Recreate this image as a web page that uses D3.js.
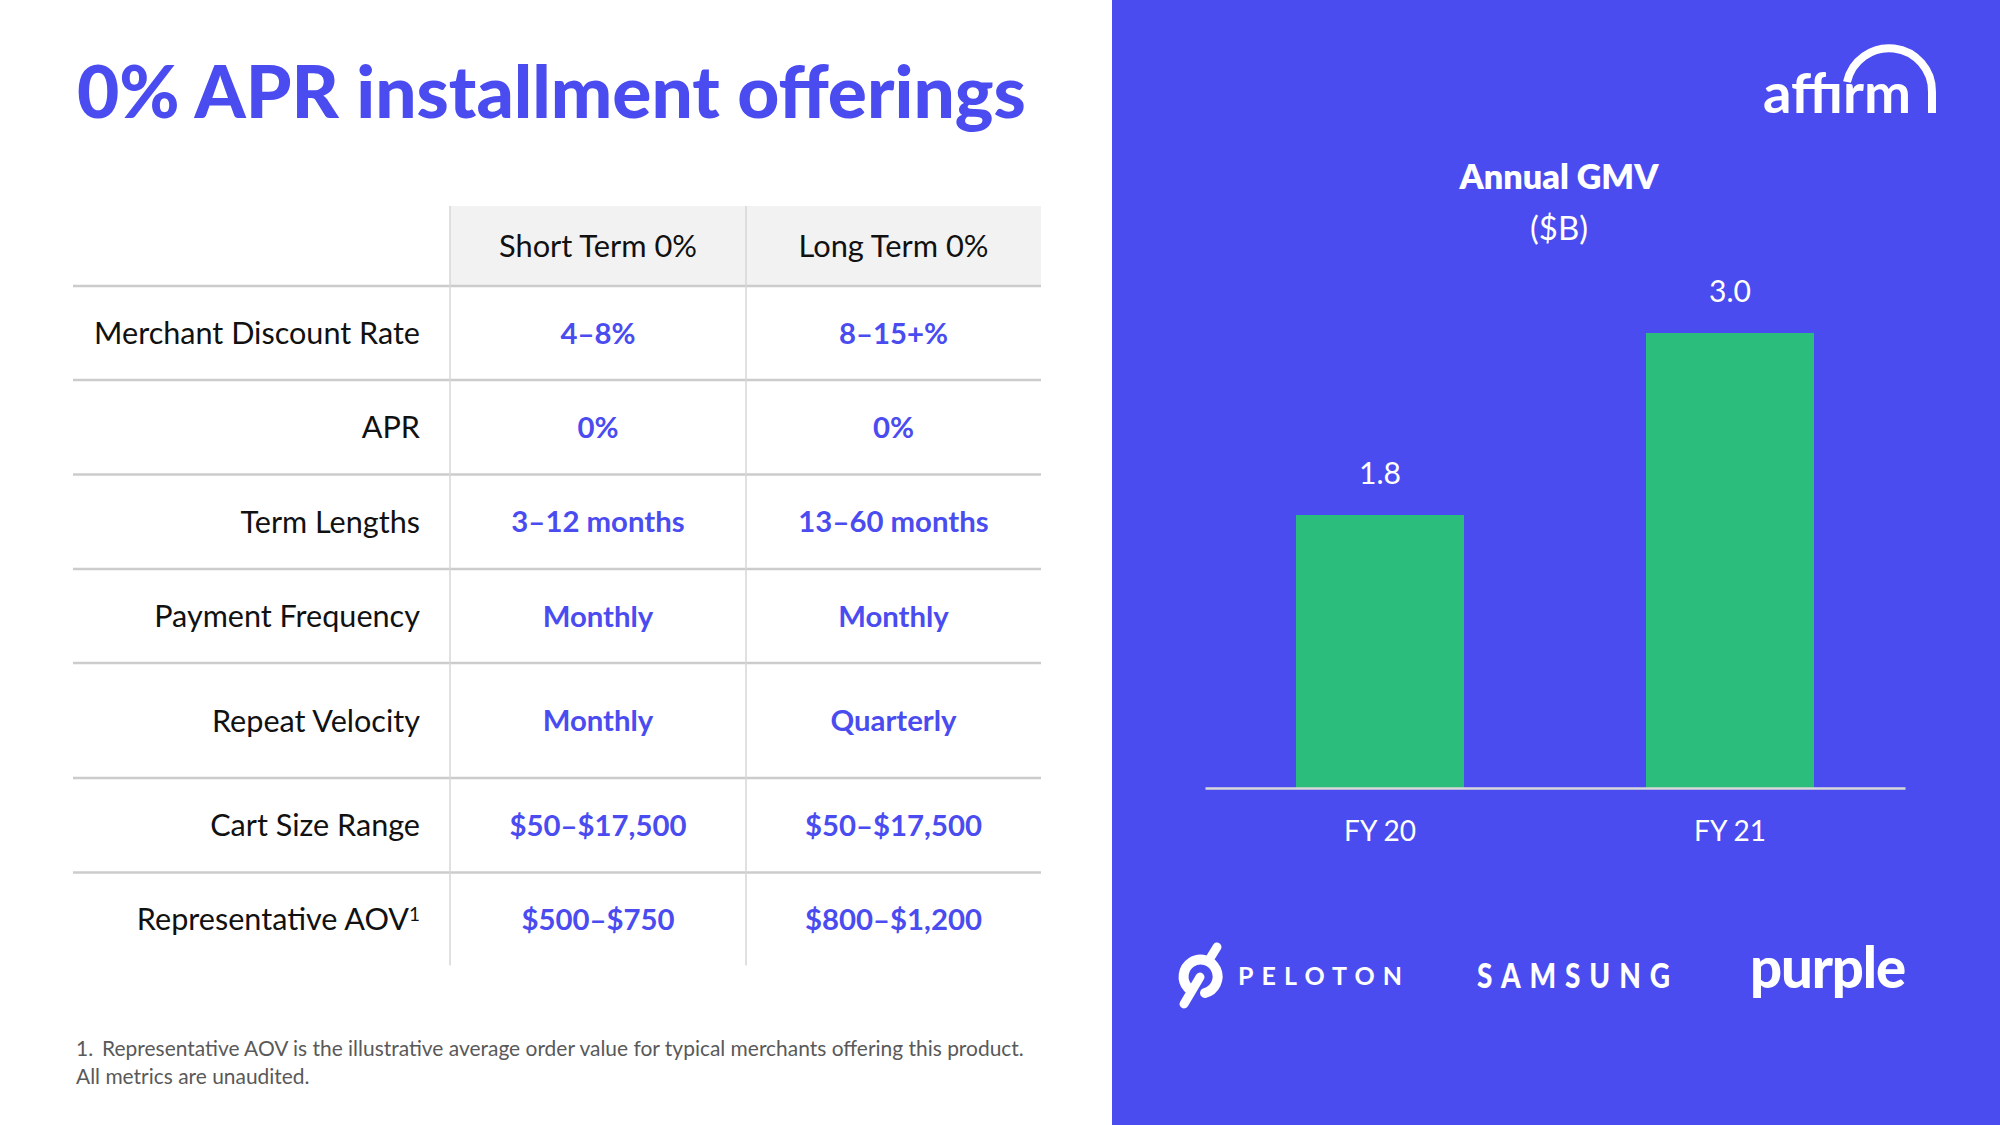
<!DOCTYPE html>
<html>
<head>
<meta charset="utf-8">
<script src="https://cdn.jsdelivr.net/npm/d3@7"></script>
<style>
  body { margin: 0; background: #fff; }
  svg { display: block; }
</style>
</head>
<body>
<svg id="slide"></svg>
<script>
const rowLabels = ["Merchant Discount Rate", "APR", "Term Lengths", "Payment Frequency", "Repeat Velocity", "Cart Size Range", "Representative AOV"];
const columns = ["Short Term 0%", "Long Term 0%"];
const shortTerm = ["4–8%", "0%", "3–12 months", "Monthly", "Monthly", "$50–$17,500", "$500–$750"];
const longTerm = ["8–15+%", "0%", "13–60 months", "Monthly", "Quarterly", "$50–$17,500", "$800–$1,200"];
const years = ["FY 20", "FY 21"];
const gmv = [1.8, 3.0];

const W = 2000, H = 1125;
const blue = "#4a4cf0", green = "#2bbd7b";
const bodyFont = "Lato, 'Open Sans', sans-serif";

const svg = d3.select("#slide").attr("width", W).attr("height", H);

// scale a text's font-size so it spans the given width
function fit(sel, w) {
  const cur = sel.node().getComputedTextLength();
  const fs = parseFloat(sel.attr("font-size"));
  sel.attr("font-size", fs * w / cur);
  return fs * w / cur;
}

// ---- left side: title + table
const title = svg.append("text")
  .attr("x", 77).attr("y", 118)
  .attr("font-family", bodyFont).attr("font-weight", 900)
  .attr("font-size", 66).attr("fill", blue)
  .text("0% APR installment offerings");
fit(title, 949);

const tLeft = 73, tRight = 1041, tTop = 206, headBottom = 286;
const colX = [450, 746, tRight];
const rowH = [94, 94.5, 94.5, 94, 115, 94.5, 93];
const rowTop = [];
rowH.reduce(function (acc, h) { rowTop.push(acc); return acc + h; }, headBottom);
const tBottom = headBottom + d3.sum(rowH);

const table = svg.append("g").attr("class", "table");

table.append("rect")
  .attr("x", colX[0]).attr("y", tTop)
  .attr("width", tRight - colX[0]).attr("height", headBottom - tTop)
  .attr("fill", "#f2f2f2");

// horizontal rules
table.selectAll(".hline")
  .data([headBottom].concat(rowTop.slice(1)))
  .enter().append("line")
  .attr("x1", tLeft).attr("x2", tRight)
  .attr("y1", function (d) { return d; }).attr("y2", function (d) { return d; })
  .attr("stroke", "#cccccc").attr("stroke-width", 2.5);

// vertical rules
table.selectAll(".vline")
  .data([colX[0], colX[1]])
  .enter().append("line")
  .attr("x1", function (d) { return d; }).attr("x2", function (d) { return d; })
  .attr("y1", tTop).attr("y2", tBottom)
  .attr("stroke", "#d6d6d6").attr("stroke-width", 1.5);

// header
const head = table.selectAll(".head")
  .data(columns)
  .enter().append("text")
  .attr("class", "head")
  .attr("x", function (d, i) { return (colX[i] + colX[i + 1]) / 2; })
  .attr("y", (tTop + headBottom) / 2).attr("dy", "0.36em")
  .attr("text-anchor", "middle")
  .attr("font-family", bodyFont).attr("font-size", 27).attr("fill", "#111")
  .text(function (d) { return d; });
const headSize = fit(d3.select(head.nodes()[0]), 198);
head.attr("font-size", headSize);

// row labels
const labels = table.selectAll(".rlabel")
  .data(rowLabels)
  .enter().append("text")
  .attr("class", "rlabel")
  .attr("x", 420)
  .attr("y", function (d, i) { return rowTop[i] + rowH[i] / 2; }).attr("dy", "0.36em")
  .attr("text-anchor", "end")
  .attr("font-family", bodyFont).attr("font-size", 27).attr("fill", "#111")
  .text(function (d) { return d; });
const labelSize = fit(d3.select(labels.nodes()[0]), 326);
labels.attr("font-size", labelSize);
// footnote marker on the last label
d3.select(labels.nodes()[rowLabels.length - 1])
  .append("tspan").attr("dy", "-0.45em").attr("font-size", labelSize * 0.62).text("1");

// values
const vals = [];
[shortTerm, longTerm].forEach(function (series, c) {
  table.selectAll(".val" + c)
    .data(series)
    .enter().append("text")
    .attr("class", "val")
    .attr("x", (colX[c] + colX[c + 1]) / 2)
    .attr("y", function (d, i) { return rowTop[i] + rowH[i] / 2; }).attr("dy", "0.36em")
    .attr("text-anchor", "middle")
    .attr("font-family", bodyFont).attr("font-weight", 700)
    .attr("font-size", 27).attr("fill", blue)
    .text(function (d) { return d; })
    .each(function () { vals.push(this); });
});
const valSize = fit(d3.select(vals[vals.length - 1]), 177);
d3.selectAll(".val").attr("font-size", valSize);

// footnote
const foot = svg.append("g").attr("font-family", bodyFont).attr("fill", "#595959");
const f1 = foot.append("text").attr("x", 76).attr("y", 1048).attr("dy", "0.36em").attr("font-size", 19);
f1.append("tspan").text("1.");
f1.append("tspan").attr("dx", 9)
  .text("Representative AOV is the illustrative average order value for typical merchants offering this product.");
const footSize = fit(f1, 939);
foot.append("text").attr("x", 76).attr("y", 1076).attr("dy", "0.36em").attr("font-size", footSize)
  .text("All metrics are unaudited.");

// ---- right panel
const panelX = 1112;
svg.append("rect").attr("x", panelX).attr("y", 0)
  .attr("width", W - panelX).attr("height", H).attr("fill", blue);

// affirm wordmark
const affirm = svg.append("text")
  .attr("x", 1763).attr("y", 113)
  .attr("font-family", bodyFont).attr("font-weight", 700)
  .attr("font-size", 52).attr("fill", "#fff")
  .text("affırm");
fit(affirm, 148);
svg.append("path")
  .attr("d", "M1847,82 A43,43 0 0 1 1932,92 L1932,113")
  .attr("fill", "none").attr("stroke", "#fff").attr("stroke-width", 8);

const chartTitle = svg.append("text")
  .attr("x", 1559).attr("y", 177).attr("dy", "0.36em")
  .attr("text-anchor", "middle")
  .attr("font-family", bodyFont).attr("font-weight", 800)
  .attr("font-size", 31).attr("fill", "#fff")
  .text("Annual GMV");
fit(chartTitle, 199);
const unit = svg.append("text")
  .attr("x", 1559).attr("y", 228).attr("dy", "0.36em")
  .attr("text-anchor", "middle")
  .attr("font-family", bodyFont).attr("font-size", 30).attr("fill", "#fff")
  .text("($B)");
fit(unit, 58);

// bar chart
const baseY = 788, plotTop = 333;
const x = d3.scaleBand().domain(years).range([1205, 1905]).padding(0);
const y = d3.scaleLinear().domain([0, 3.0]).range([baseY, plotTop]);
const barW = x.bandwidth() * 0.48;

const chart = svg.append("g").attr("class", "chart");

chart.selectAll(".bar")
  .data(gmv)
  .enter().append("rect")
  .attr("class", "bar")
  .attr("x", function (d, i) { return x(years[i]) + (x.bandwidth() - barW) / 2; })
  .attr("y", function (d) { return y(d); })
  .attr("width", barW)
  .attr("height", function (d) { return baseY - y(d); })
  .attr("fill", green);

const barLabels = chart.selectAll(".blabel")
  .data(gmv)
  .enter().append("text")
  .attr("class", "blabel")
  .attr("x", function (d, i) { return x(years[i]) + x.bandwidth() / 2; })
  .attr("y", function (d) { return y(d) - 42; }).attr("dy", "0.36em")
  .attr("text-anchor", "middle")
  .attr("font-family", bodyFont).attr("font-size", 28).attr("fill", "#fff")
  .text(function (d) { return d3.format(".1f")(d); });
const blSize = fit(d3.select(barLabels.nodes()[0]), 42);
barLabels.attr("font-size", blSize);

const xAxis = d3.axisBottom(x).tickSize(0).tickSizeOuter(0);
const ax = chart.append("g")
  .attr("class", "x axis")
  .attr("transform", "translate(0," + baseY + ")")
  .call(xAxis);
ax.select(".domain").attr("stroke", "#d9d9d9").attr("stroke-width", 2.5);
ax.selectAll("text")
  .attr("y", 43).attr("dy", "0.36em")
  .attr("font-family", bodyFont).attr("font-size", 28).attr("fill", "#fff");
const tickSize = fit(d3.select(ax.selectAll("text").nodes()[0]), 72);
ax.selectAll("text").attr("font-size", tickSize);

// ---- partner logos
const logos = svg.append("g").attr("fill", "#fff");
// peloton mark: ring bowl, diagonal stem and top stub
logos.append("path")
  .attr("d", "M1188,988 A17,17 0 1 1 1205,993")
  .attr("fill", "none").attr("stroke", "#fff").attr("stroke-width", 10).attr("stroke-linecap", "round");
logos.append("line")
  .attr("x1", 1184).attr("y1", 1004).attr("x2", 1200).attr("y2", 977)
  .attr("stroke", "#fff").attr("stroke-width", 9).attr("stroke-linecap", "round");
logos.append("line")
  .attr("x1", 1209).attr("y1", 960).attr("x2", 1217).attr("y2", 947)
  .attr("stroke", "#fff").attr("stroke-width", 9).attr("stroke-linecap", "round");
logos.append("text")
  .attr("x", 1238).attr("y", 985)
  .attr("font-family", bodyFont).attr("font-weight", 700)
  .attr("font-size", 25)
  .attr("textLength", 164).attr("lengthAdjust", "spacing")
  .text("PELOTON");
// samsung: condensed heavy caps, wide tracking
const samScale = 0.8;
logos.append("text")
  .attr("transform", "translate(1477,988) scale(" + samScale + ",1)")
  .attr("font-family", "Lato, sans-serif").attr("font-weight", 900)
  .attr("font-size", 35)
  .attr("textLength", 193 / samScale).attr("lengthAdjust", "spacing")
  .text("SAMSUNG");
const pur = logos.append("text")
  .attr("x", 1750).attr("y", 988)
  .attr("font-family", bodyFont).attr("font-weight", 900)
  .attr("letter-spacing", "-0.02em").attr("font-size", 52)
  .text("purple");
fit(pur, 155);
</script>
</body>
</html>
